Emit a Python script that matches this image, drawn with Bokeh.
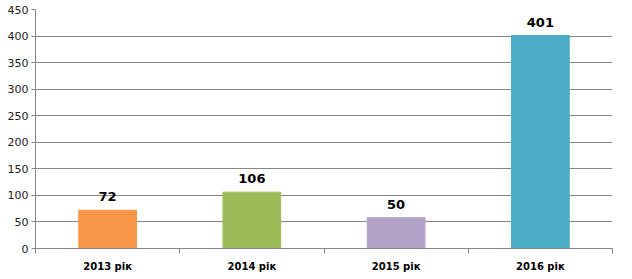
from bokeh.plotting import figure
from bokeh.models import ColumnDataSource, FixedTicker, Range1d, LabelSet
from bokeh.core.properties import value
from bokeh.embed import file_html
from bokeh.resources import INLINE

categories = ["2013 рік", "2014 рік", "2015 рік", "2016 рік"]
values = [72, 106, 58, 401]
value_labels = ["72", "106", "50", "401"]
colors = ["#F79646", "#9BBB59", "#B3A2C7", "#4BACC6"]
y_ticks = [0, 50, 100, 150, 200, 250, 300, 350, 400, 450]

xpos = [i + 0.5 for i in range(len(categories))]
src = ColumnDataSource(dict(x=xpos, top=values, lab=value_labels, color=colors))

p = figure(width=632, height=279, output_backend="svg", toolbar_location=None,
           x_range=Range1d(0, len(categories)), y_range=Range1d(0, 450),
           min_border_left=35, min_border_right=20, min_border_top=9, min_border_bottom=31)
p.outline_line_color = None
p.background_fill_color = "white"

p.vbar(x="x", top="top", width=0.4, color="color", source=src)

labels = LabelSet(x="x", y="top", text="lab", source=src, text_align="center",
                  text_baseline="bottom", y_offset=9, text_font=value("DejaVu Sans"),
                  text_font_size="13px", text_font_style="bold", text_color="#000000")
p.add_layout(labels)

# y axis
p.yaxis.ticker = FixedTicker(ticks=y_ticks)
p.yaxis.axis_line_color = "#868686"
p.yaxis.major_tick_line_color = "#868686"
p.yaxis.major_tick_out = 4
p.yaxis.major_tick_in = 0
p.yaxis.minor_tick_line_color = None
p.yaxis.major_label_text_font = "DejaVu Sans"
p.yaxis.major_label_text_font_size = "11px"
p.yaxis.major_label_text_color = "#222222"
p.yaxis.major_label_standoff = 3

# x axis
p.xaxis.ticker = FixedTicker(ticks=xpos, minor_ticks=list(range(0, len(categories) + 1)))
p.xaxis.major_label_overrides = {x: c for x, c in zip(xpos, categories)}
p.xaxis.axis_line_color = "#868686"
p.xaxis.major_tick_line_color = None
p.xaxis.minor_tick_line_color = "#868686"
p.xaxis.minor_tick_out = 5
p.xaxis.minor_tick_in = 0
p.xaxis.major_label_text_font = "DejaVu Sans"
p.xaxis.major_label_text_font_size = "10px"
p.xaxis.major_label_text_font_style = "bold"
p.xaxis.major_label_text_color = "#000000"
p.xaxis.major_label_standoff = 6

p.xgrid.grid_line_color = None
p.ygrid.ticker = FixedTicker(ticks=y_ticks)
p.ygrid.grid_line_color = "#868686"
p.ygrid.grid_line_width = 1

open("out.html", "w").write(file_html(p, INLINE))
